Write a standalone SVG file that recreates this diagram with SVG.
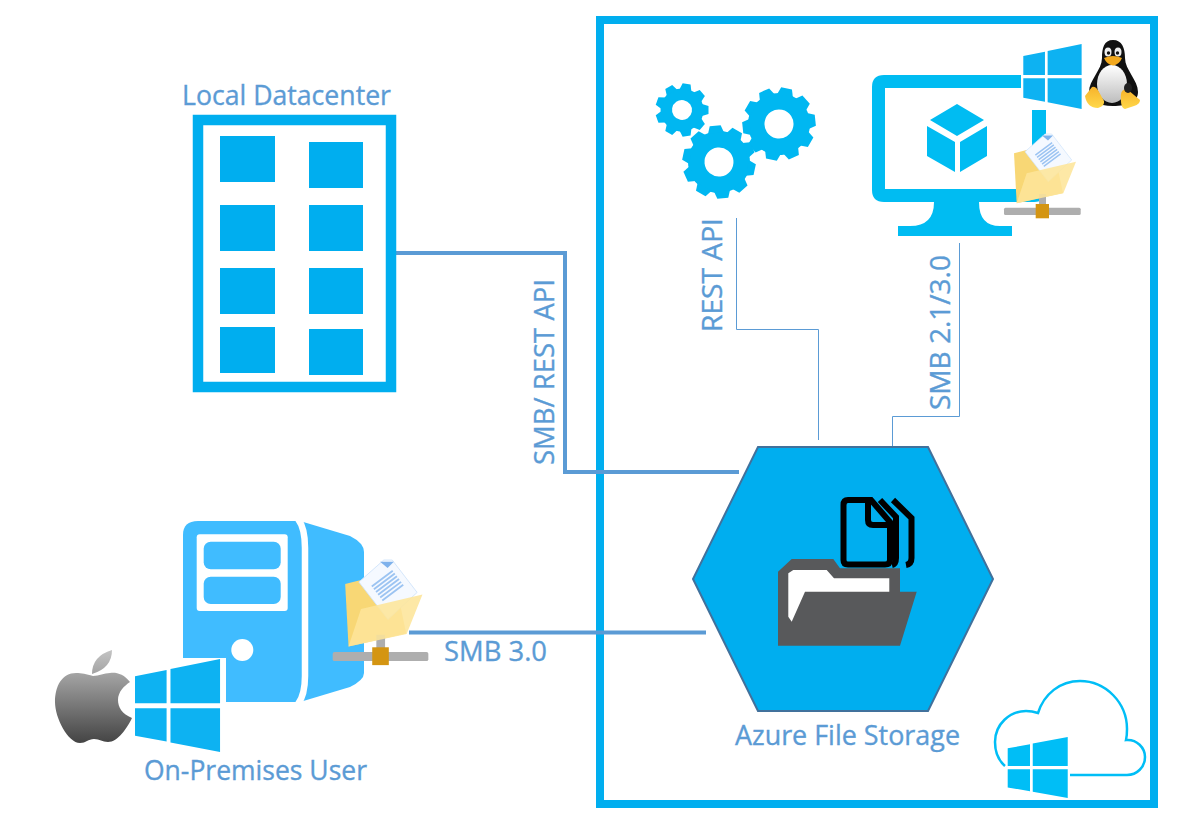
<svg xmlns="http://www.w3.org/2000/svg" width="1192" height="831" viewBox="0 0 1192 831">
<style>
.lbl{font-family:"Open Sans","Noto Sans",sans-serif;font-size:27px;fill:#5b9bd5;stroke:#5b9bd5;stroke-width:.35}
.c1{fill:#00aeef}
.c2{fill:#00bcf2}
.thick{fill:none;stroke:#5b9bd5;stroke-width:4}
.thin{fill:none;stroke:#5b9bd5;stroke-width:1}
.gear{fill:#00b7f1}
</style>
<defs>
<path id="win" d="M0 36L65 23V93H0ZM73 21L175 0V93H73ZM0 103H65V173L0 161ZM73 103H175V195L73 175Z"/>
<g id="share">
<path d="M10 19.300L22.700 16H50L59 59L12.700 69.300Z" fill="#f8d775"/>
<rect x="35" y="60" width="7" height="11" fill="#aeaeae"/>
<rect x="0" y="73.700" width="76.700" height="7.300" rx="1.500" fill="#aeaeae"/>
<rect x="31.700" y="70" width="13.300" height="14.300" fill="#d49512"/>
<path d="M21 17.700L41 0H47.700L67.700 26L44.300 47.700Z" fill="#f5f9ff" stroke="#cfe4fa" stroke-width=".7"/>
<path d="M38 1.500H49L44 6.500Z" fill="#7fb2ec"/>
<line x1="39.300" y1="14.300" x2="49.300" y2="27.600" stroke="#9cc4f2" stroke-width="21" stroke-dasharray="1.500 1.300"/>
<path d="M12.700 69.300L22.700 39.300L72 27.700L59.300 59.300Z" fill="#fde59a" opacity=".88"/>
</g>
<path id="toothL" d="M-8 -29L-5.500 -36.500H5.500L8 -29Z"/>
<path id="toothS" d="M-6 -20L-4 -26.500H4L6 -20Z"/>
<g id="gearL" class="gear">
<path fill-rule="evenodd" d="M-31 0A31 31 0 1 0 31 0A31 31 0 1 0 -31 0ZM-14.500 0A14.500 14.500 0 1 1 14.500 0A14.500 14.500 0 1 1 -14.500 0Z"/>
<use href="#toothL"/><use href="#toothL" transform="rotate(36)"/><use href="#toothL" transform="rotate(72)"/><use href="#toothL" transform="rotate(108)"/><use href="#toothL" transform="rotate(144)"/><use href="#toothL" transform="rotate(180)"/><use href="#toothL" transform="rotate(216)"/><use href="#toothL" transform="rotate(252)"/><use href="#toothL" transform="rotate(288)"/><use href="#toothL" transform="rotate(324)"/>
</g>
<g id="gearS" class="gear">
<path fill-rule="evenodd" d="M-21.500 0A21.500 21.500 0 1 0 21.500 0A21.500 21.500 0 1 0 -21.500 0ZM-10 0A10 10 0 1 1 10 0A10 10 0 1 1 -10 0Z"/>
<use href="#toothS"/><use href="#toothS" transform="rotate(40)"/><use href="#toothS" transform="rotate(80)"/><use href="#toothS" transform="rotate(120)"/><use href="#toothS" transform="rotate(160)"/><use href="#toothS" transform="rotate(200)"/><use href="#toothS" transform="rotate(240)"/><use href="#toothS" transform="rotate(280)"/><use href="#toothS" transform="rotate(320)"/>
</g>
<linearGradient id="apple" x1="0" y1="0" x2="0" y2="1"><stop offset="0" stop-color="#c4c4c4"/><stop offset="1" stop-color="#444"/></linearGradient>
<linearGradient id="belly" x1="0" y1="0" x2="0" y2="1"><stop offset="0" stop-color="#fff"/><stop offset="1" stop-color="#bdbdbd"/></linearGradient>
<linearGradient id="foot" x1="0" y1="0" x2="0" y2="1"><stop offset="0" stop-color="#f7b32b"/><stop offset="1" stop-color="#ffd84a"/></linearGradient>
</defs>
<rect width="1192" height="831" fill="#fff"/>
<rect x="600" y="20" width="554" height="784" fill="none" stroke="#00aeef" stroke-width="8"/>

<g id="connectors">
<path class="thick" d="M396 253H565V472H739"/>
<path class="thick" d="M409 632.500H706"/>
<path class="thin" d="M736.500 218V329.500H818.500V440"/>
<path class="thin" d="M892.500 447V416.500H959.500V243"/>
</g>

<g id="datacenter">
<rect x="198" y="120" width="193" height="267" fill="#fff" stroke="#00aeef" stroke-width="10.500"/>
<rect class="c1" x="220" y="136" width="55" height="46"/>
<rect class="c1" x="309" y="142" width="54" height="46"/>
<rect class="c1" x="220" y="205" width="55" height="46"/>
<rect class="c1" x="309" y="205" width="54" height="46"/>
<rect class="c1" x="220" y="268" width="55" height="46"/>
<rect class="c1" x="309" y="268" width="54" height="46"/>
<rect class="c1" x="220" y="327" width="55" height="46"/>
<rect class="c1" x="309" y="329" width="54" height="46"/>
<text class="lbl" x="182" y="105" textLength="209" lengthAdjust="spacingAndGlyphs">Local Datacenter</text>
</g>

<g id="gears">
<use href="#gearS" transform="translate(682 110) rotate(10)"/>
<use href="#gearL" transform="translate(779 124) rotate(12)"/>
<use href="#gearL" transform="translate(719 162) rotate(-6)"/>
</g>

<g id="vm">
<path class="c2" fill-rule="evenodd" d="M884 75H1021V88H885V189H1032V110H1046V190Q1046 202 1034 202H979Q979 226 1000 226H1012V236H898V226H910Q934 226 934 202H884Q872 202 872 190V87Q872 75 884 75Z"/>
<path class="c2" d="M957 104L984 120L957 136L930 120ZM927 126L955 142V172L927 156ZM987 126L960 142V172L987 156Z"/>
<use href="#share" transform="translate(1004 134)"/>
<use href="#win" fill="#0db2f2" transform="translate(1023.300 44) scale(.3333)"/>
<g id="linux">
<path d="M1113 40C1104 40 1102 48 1102 58C1102 70 1089 80 1089 92C1089 100 1098 106 1113 106C1128 106 1138 102 1138 92C1138 80 1125 70 1125 58C1125 48 1122 40 1113 40Z" fill="#111"/>
<ellipse cx="1112" cy="84" rx="15" ry="19" fill="url(#belly)"/>
<ellipse cx="1108" cy="52" rx="3.500" ry="4.500" fill="#eee"/>
<ellipse cx="1118" cy="52" rx="3.500" ry="4.500" fill="#eee"/>
<circle cx="1108.500" cy="53" r="1.700" fill="#111"/>
<circle cx="1117.500" cy="53" r="1.700" fill="#111"/>
<path d="M1104 58Q1113 54 1122 58Q1119 65 1113 65.500Q1107 65 1104 58Z" fill="#f2a81d"/>
<path d="M1085 96L1092 87Q1096 86 1099 92L1104 101Q1105 106 1098 108Q1087 108 1085 96Z" fill="url(#foot)"/>
<path d="M1121 94Q1122 88 1128 90L1140 100Q1140 104 1134 106L1125 109Q1120 108 1121 94Z" fill="url(#foot)"/>
<ellipse cx="1128" cy="88" rx="4" ry="5" fill="#222"/>
</g>
</g>

<g id="file-storage">
<path d="M758 447H928L993 579L928 711H758L693 579Z" fill="#00aeef" stroke="#41719c" stroke-width="2"/>
<path d="M778 571.700L791.700 559H833.300L840 568.300H900V591.700H916.700L900 645.700H778Z" fill="#58595b"/>
<path d="M788.300 573.300L793.300 570H826.700L834 578.300H889.300V591.700H805L791.700 621.700L788.300 616.700Z" fill="#fff"/>
<g fill="none" stroke="#000" stroke-width="6">
<path d="M848 500H871L890 522V560Q890 564.500 885 564.500H848Q843.500 564.500 843.500 560V505Q843.500 500 848 500Z"/>
<path d="M868 500V520Q868 525 873 525H890"/>
<path d="M880 500L896 517V558Q896 564 892 565"/>
<path d="M893 500L911.500 518V558Q911.500 564 906 565"/>
</g>
<text class="lbl" x="735" y="745" textLength="225" lengthAdjust="spacingAndGlyphs">Azure File Storage</text>
</g>

<g id="cloud">
<path d="M1005 766C998 760 995 751 995 742C995 724 1010 711 1026 711C1030 711 1035 712 1038 713C1044 694 1060 681 1080 681C1106 681 1127 703 1127 729C1127 733 1127 736 1126 740C1137 739 1145 748 1145 757C1145 767 1137 775 1127 775H1070" fill="none" stroke="#00bef6" stroke-width="2.500"/>
<use href="#win" fill="#00bef6" transform="translate(1007.700 737) scale(.343 .313)"/>
</g>

<g id="user">
<path d="M198 521H300L350 536Q364 543 364 552V673Q364 680 350 687L300 702H198Q183 702 183 688V535Q183 521 198 521Z" fill="#40bcff"/>
<path d="M298 519Q305 528 305 548V676Q305 695 298 704" fill="none" stroke="#fff" stroke-width="6.500"/>
<rect x="196.700" y="534.300" width="91" height="76.700" rx="3" fill="#fff"/>
<rect x="203.700" y="541.700" width="77" height="27.600" rx="7" fill="#40bcff"/>
<rect x="203.700" y="576.700" width="77" height="27.300" rx="7" fill="#40bcff"/>
<circle cx="242.300" cy="650" r="11" fill="#fff"/>
<rect x="183" y="658" width="43" height="46" fill="#fff"/>
<path d="M93 676C86 674 82 673 76 673C62 673 55 686 55 702C55 718 68 743 80 743C86 743 88 739 94 739C100 739 102 742 108 742C118 742 127 728 132 718C122 714 118 707 118 700C118 692 124 686 130 682C124 674 116 672 110 673C104 673 99 676 93 676ZM92 674Q92 656 112 650Q112 668 92 674Z" fill="url(#apple)"/>
<use href="#win" fill="#0db2f2" transform="translate(135 659) scale(.486 .477)"/>
<use href="#share" transform="translate(332.700 560) scale(1.247)"/>
<text class="lbl" x="144" y="780" textLength="223" lengthAdjust="spacingAndGlyphs">On-Premises User</text>
</g>

<g id="labels">
<text class="lbl" transform="translate(554 465) rotate(-90)" textLength="186" lengthAdjust="spacingAndGlyphs">SMB/ REST API</text>
<text class="lbl" transform="translate(722 332) rotate(-90)" textLength="114" lengthAdjust="spacingAndGlyphs">REST API</text>
<text class="lbl" transform="translate(950 410) rotate(-90)" textLength="155" lengthAdjust="spacingAndGlyphs">SMB 2.1/3.0</text>
<text class="lbl" x="444" y="660.500" textLength="103" lengthAdjust="spacingAndGlyphs">SMB 3.0</text>
</g>
</svg>
